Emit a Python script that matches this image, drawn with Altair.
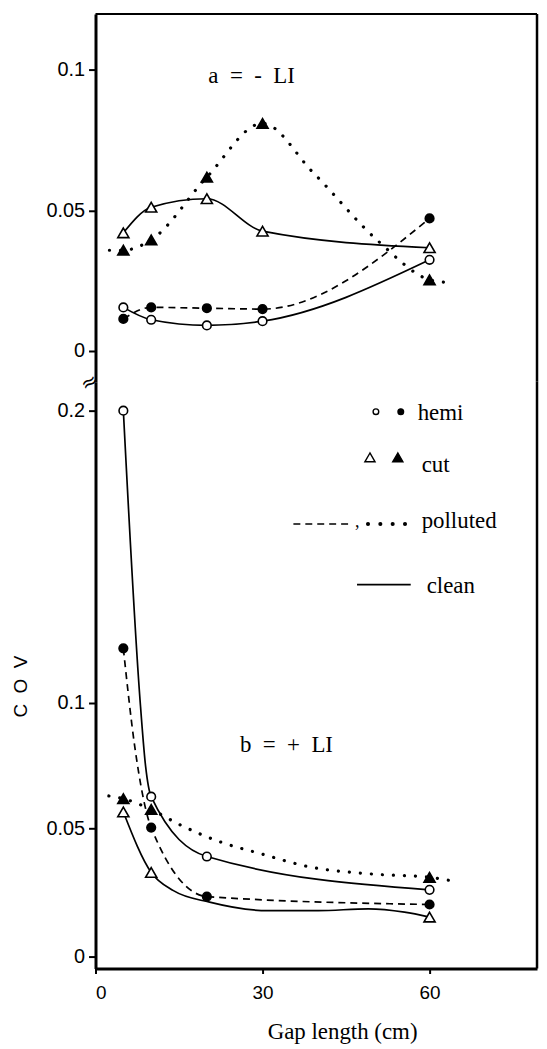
import altair as alt
import pandas as pd

# ---------------- values ----------------
# panel a (= - LI)
GAP_A = [5, 10, 20, 30, 60]
A_HEMI_CLEAN = [0.0155, 0.0111, 0.0091, 0.0106, 0.0324]
A_HEMI_POLLUTED = [0.0114, 0.0155, 0.0152, 0.0149, 0.0471]
A_CUT_CLEAN = [0.0420, 0.0511, 0.0541, 0.0426, 0.0367]
A_CUT_POLLUTED = [0.0358, 0.0395, 0.0618, 0.0809, 0.0253]
# points (no marker)
A_CUT_POLLUTED_CURVE_X = [2.5, 39.0, 50.7, 62.8]
A_CUT_POLLUTED_CURVE_Y = [0.0358, 0.0636, 0.0392, 0.0244]

# panel b (= + LI)
GAP_B_HEMI = [5, 10, 20, 60]
B_HEMI_CLEAN = [0.200, 0.0626, 0.0390, 0.0260]
B_HEMI_CLEAN_CURVE_X = [8.0, 9.0]
B_HEMI_CLEAN_CURVE_Y = [0.101, 0.0747]
B_HEMI_POLLUTED = [0.1187, 0.0503, 0.0234, 0.0203]
B_HEMI_POLLUTED_CURVE_X = [7.05]
B_HEMI_POLLUTED_CURVE_Y = [0.0826]
GAP_B_CUT = [5, 10, 60]
B_CUT_CLEAN = [0.0565, 0.0328, 0.0154]
B_CUT_CLEAN_CURVE_X = [14.0, 20.5, 31.0, 40.0, 49.0, 55.5]
B_CUT_CLEAN_CURVE_Y = [0.0257, 0.0212, 0.0179, 0.0179, 0.0186, 0.0173]
B_CUT_POLLUTED = [0.0618, 0.0575, 0.0309]
B_CUT_POLLUTED_CURVE_X = [2.4, 15.0, 22.4, 29.5, 38.4, 49.5, 63.8]
B_CUT_POLLUTED_CURVE_Y = [0.0629, 0.0516, 0.0447, 0.0402, 0.0350, 0.0322, 0.0296]

X_TICKS = [0, 30, 60]
Y_TICKS_A = [0, 0.05, 0.1]
Y_TICKS_B = [0, 0.05, 0.1, 0.2]


def build(series):
    pts, crv = [], []
    for kind, cond, xs, ys, cx, cy in series:
        sid = kind + "-" + cond
        for x, y in zip(xs, ys):
            rec = dict(sid=sid, kind=kind, cond=cond, x=x, y=y)
            pts.append(rec)
            crv.append(dict(rec))
        for x, y in zip(cx, cy):
            crv.append(dict(sid=sid, kind=kind, cond=cond, x=x, y=y))
    return pd.DataFrame(pts), pd.DataFrame(crv)


PTS_A, CRV_A = build([
    ("hemi", "clean", GAP_A, A_HEMI_CLEAN, [], []),
    ("hemi", "polluted", GAP_A, A_HEMI_POLLUTED, [], []),
    ("cut", "clean", GAP_A, A_CUT_CLEAN, [], []),
    ("cut", "polluted", GAP_A, A_CUT_POLLUTED, A_CUT_POLLUTED_CURVE_X, A_CUT_POLLUTED_CURVE_Y),
])
PTS_B, CRV_B = build([
    ("hemi", "clean", GAP_B_HEMI, B_HEMI_CLEAN, B_HEMI_CLEAN_CURVE_X, B_HEMI_CLEAN_CURVE_Y),
    ("hemi", "polluted", GAP_B_HEMI, B_HEMI_POLLUTED, B_HEMI_POLLUTED_CURVE_X, B_HEMI_POLLUTED_CURVE_Y),
    ("cut", "clean", GAP_B_CUT, B_CUT_CLEAN, B_CUT_CLEAN_CURVE_X, B_CUT_CLEAN_CURVE_Y),
    ("cut", "polluted", GAP_B_CUT, B_CUT_POLLUTED, B_CUT_POLLUTED_CURVE_X, B_CUT_POLLUTED_CURVE_Y),
])

W, HA, HB = 444, 370, 590
SERIF = "Liberation Serif"
SANS = "Liberation Sans"
ONE = pd.DataFrame({"_": [0]})

SHAPE = alt.Shape("kind:N", scale=alt.Scale(domain=["hemi", "cut"], range=["circle", "triangle-up"]), legend=None)
FILL = alt.Fill("cond:N", scale=alt.Scale(domain=["clean", "polluted"], range=["white", "black"]), legend=None)
SIZE = alt.Size("kind:N", scale=alt.Scale(domain=["hemi", "cut"], range=[75, 125]), legend=None)


def data_layers(pts, crv, xenc, yenc):
    base = alt.Chart(crv).encode(x=xenc, y=yenc, detail="sid:N", order="x:Q")
    solid = base.transform_filter("datum.cond == 'clean'").mark_line(
        interpolate="monotone", color="black", strokeWidth=1.7)
    dashed = base.transform_filter("datum.cond == 'polluted' && datum.kind == 'hemi'").mark_line(
        interpolate="monotone", color="black", strokeWidth=1.7, strokeDash=[7, 5])
    dotted = base.transform_filter("datum.cond == 'polluted' && datum.kind == 'cut'").mark_line(
        interpolate="monotone", color="black", strokeWidth=3.2, strokeDash=[0.1, 11], strokeCap="round")
    points = alt.Chart(pts).mark_point(filled=True, stroke="black", strokeWidth=1.6, opacity=1).encode(
        x=xenc, y=yenc, shape=SHAPE, fill=FILL, size=SIZE)
    return [solid, dashed, dotted, points]


def text(px, py, s, size=23, align="left", font=SERIF, angle=0):
    return alt.Chart(ONE).mark_text(text=s, align=align, baseline="alphabetic", font=font,
                                    fontSize=size, color="black", angle=angle).encode(
        x=alt.value(px), y=alt.value(py))


def sym(px, py, shape, fill, size):
    return alt.Chart(ONE).mark_point(shape=shape, filled=True, fill=fill, stroke="black",
                                     strokeWidth=1.4, size=size, opacity=1).encode(
        x=alt.value(px), y=alt.value(py))


def hrule(x1, x2, py, **kw):
    return alt.Chart(ONE).mark_rule(color="black", **kw).encode(
        x=alt.value(x1), x2=alt.value(x2), y=alt.value(py))


def vrule(px, y1, y2, **kw):
    return alt.Chart(ONE).mark_rule(color="black", **kw).encode(
        x=alt.value(px), y=alt.value(y1), y2=alt.value(y2))


XSCALE = alt.Scale(domain=[0, 79.3], nice=False, zero=False)

# ---------------- panel a ----------------
XA = alt.X("x:Q", scale=XSCALE, axis=None)
YA = alt.Y("y:Q", scale=alt.Scale(domain=[-0.01095, 0.11979], nice=False, zero=False),
           axis=alt.Axis(values=Y_TICKS_A, format=".2~f", title=None))

top = alt.layer(
    *data_layers(PTS_A, CRV_A, XA, YA),
    hrule(0, W, 0, strokeWidth=2),
    vrule(W, 0, HA, strokeWidth=2.5),
    text(157, 69, "a \u00a0= \u00a0- \u00a0LI", align="center"),
    text(-3, 376, "\u2248", size=20, align="center", font="DejaVu Sans", angle=330),
).properties(width=W, height=HA)

# ---------------- panel b ----------------
XB = alt.X("x:Q", scale=XSCALE,
           axis=alt.Axis(values=X_TICKS, title="Gap length (cm)", titleFont=SERIF, titleFontSize=23,
                         titleFontWeight="normal", titleX=248, titlePadding=18, tickSize=5,
                         labelPadding=10, labelFontSize=19))
YB = alt.Y("y:Q",
           scale=alt.Scale(domain=[-0.00465, 0, 0.05, 0.1, 0.2, 0.2099],
                           range=[HB, 578, 449, 323, 29, 0], nice=False, zero=False),
           axis=alt.Axis(values=Y_TICKS_B, format=".2~f", title="C\u00a0\u00a0O\u00a0\u00a0V",
                         titleFont=SANS, titleFontSize=19, titleFontWeight="normal",
                         titlePadding=15, titleY=306))

legend = [
    sym(282, 30, "circle", "white", 32),
    sym(307, 30, "circle", "black", 32),
    text(324, 38, "hemi"),
    sym(276, 76, "triangle-up", "white", 105),
    sym(304, 76, "triangle-up", "black", 105),
    text(328, 91, "cut"),
    hrule(199, 256, 143, strokeWidth=1.5, strokeDash=[7, 5]),
    text(261, 146, ",", size=18),
    hrule(274, 312, 143, strokeWidth=4, strokeDash=[0.1, 12.3], strokeCap="round"),
    text(328, 147, "polluted"),
    hrule(263, 317, 204, strokeWidth=1.7),
    text(333, 212, "clean"),
]

bottom = alt.layer(
    *data_layers(PTS_B, CRV_B, XB, YB),
    vrule(W, 0, HB, strokeWidth=2.5),
    text(192, 372, "b \u00a0= \u00a0+ \u00a0LI", align="center"),
    *legend,
).properties(width=W, height=HB)

chart = alt.vconcat(top, bottom, spacing=0, bounds="flush").properties(
    padding={"left": 4, "top": 1, "right": 0, "bottom": 0}
).configure_view(stroke=None).configure_axis(
    grid=False, domainColor="black", domainWidth=3, tickColor="black", tickWidth=2,
    tickSize=7, labelColor="black", labelFont=SANS, labelFontSize=20, labelPadding=4,
    titleColor="black"
)

chart.save("out.html", embed_options={"renderer": "svg", "actions": False})
